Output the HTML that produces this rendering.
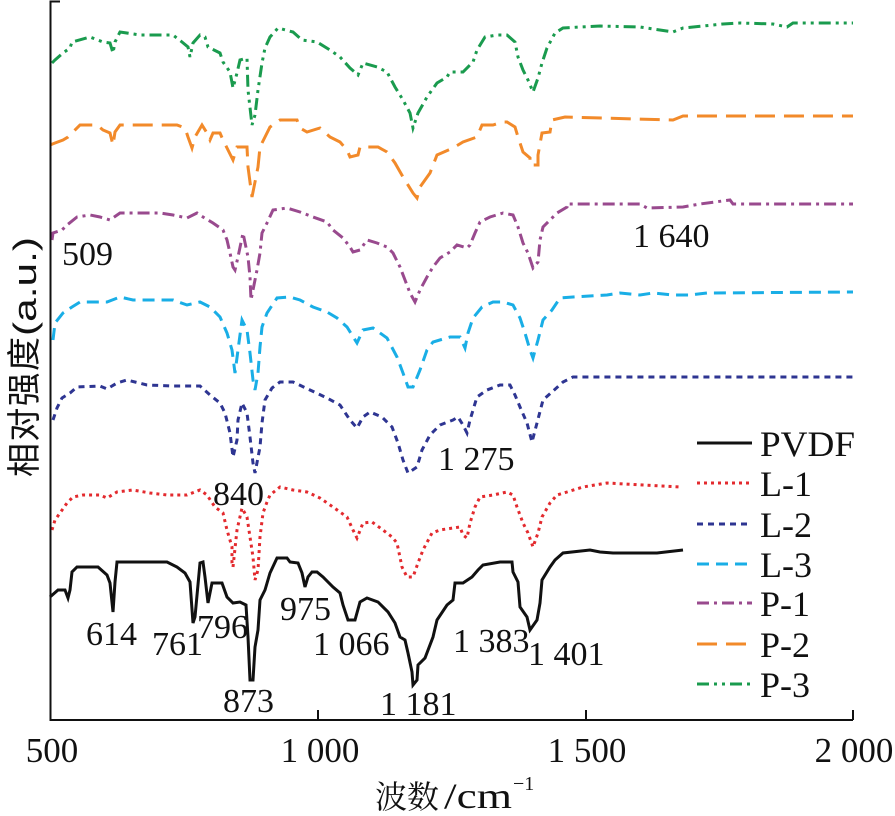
<!DOCTYPE html>
<html><head><meta charset="utf-8"><style>
html,body{margin:0;padding:0;background:#fff;}
svg{display:block;}
.t{font-family:"Liberation Serif","Noto Serif CJK SC",serif;fill:#111;}
</style></head><body>
<svg width="895" height="816" viewBox="0 0 895 816" xmlns="http://www.w3.org/2000/svg">
<rect width="895" height="816" fill="#fff"/>
<g fill="none" stroke-linejoin="miter" stroke-width="3">
<!-- P-3 green -->
<polyline stroke="#1a9b4e" stroke-dasharray="12 5 3 5 3 5" points="52,63 55,60 63,53 70,48 72,42 90,37 103,42 110,43 113,53 115,42 120,32 140,35 173,35 182,42 188,47 190,57 193,43 200,35 205,37 208,47 220,53 223,62 230,72 233,88 237,73 240,60 247,58 248,90 252,125 255,115 258,90 262,63 265,48 270,37 278,28 293,32 302,40 317,42 330,50 340,57 350,68 358,75 363,63 377,67 387,72 395,87 403,100 410,113 413,128 418,113 427,97 437,83 447,77 450,72 463,72 473,62 477,50 485,37 497,35 507,35 515,42 518,57 523,70 528,80 533,92 538,78 542,63 547,48 555,33 563,28 580,27 600,26 640,27 673,32 683,28 723,24 740,23 773,24 787,27 793,23 853,23"/>
<!-- P-2 orange -->
<polyline stroke="#f28a2a" stroke-dasharray="20 9" points="50,145 55,143 63,140 68,137 72,133 80,125 97,125 103,130 110,133 113,145 115,132 120,125 177,125 185,128 188,137 192,148 195,137 202,125 207,133 210,140 213,133 220,133 223,140 228,150 233,160 237,147 247,147 248,167 252,197 255,182 258,167 260,147 265,137 270,127 280,120 297,120 300,128 307,132 320,128 330,137 340,142 347,150 350,157 358,155 360,147 378,147 387,152 395,163 403,177 413,193 417,198 420,187 430,173 437,155 453,148 463,142 477,137 482,125 493,125 502,122 507,122 515,127 518,137 523,152 530,158 530,165 538,165 538,155 542,133 550,132 552,120 565,117 673,120 683,116 853,116"/>
<!-- P-1 purple -->
<polyline stroke="#994a8e" stroke-dasharray="12 5 3 5" points="52,240 53,233 62,230 67,225 77,217 90,215 100,217 110,220 120,213 140,213 160,213 173,215 187,218 197,213 203,217 213,223 223,230 227,240 230,253 233,267 235,270 238,257 243,233 248,257 250,277 251,300 253,290 257,270 260,253 262,233 267,223 273,210 287,208 300,212 313,217 327,222 333,230 343,238 350,247 353,252 360,250 367,240 377,243 387,247 393,253 400,267 405,280 410,293 415,302 420,290 427,277 433,267 440,258 450,252 457,245 467,248 470,245 475,233 480,222 490,217 503,213 513,215 518,227 523,243 528,253 533,268 538,262 540,240 543,227 550,220 557,213 567,207 567,204 640,204 647,208 683,207 700,204 730,200 733,204 853,204"/>
<!-- L-3 light blue -->
<polyline stroke="#19aee6" stroke-dasharray="12 7" points="53,340 55,323 63,313 72,307 80,302 107,302 120,297 133,300 173,300 187,305 200,302 210,307 220,317 227,333 232,350 235,373 238,350 242,320 247,330 250,353 253,380 255,390 258,373 260,347 262,327 267,313 277,298 290,297 300,300 313,307 327,312 337,318 347,327 357,343 363,330 373,328 387,338 397,357 403,373 408,387 413,387 420,370 427,350 433,342 450,337 460,337 465,348 468,333 473,318 482,307 493,302 503,302 513,305 520,318 525,333 530,350 533,358 538,340 543,320 552,310 560,298 573,297 607,295 620,293 640,295 653,293 673,295 690,295 707,293 853,292"/>
<!-- L-2 navy -->
<polyline stroke="#2e3592" stroke-dasharray="6 5" points="53,420 57,408 62,398 70,393 77,387 100,386 107,389 117,383 127,380 147,385 173,386 200,386 210,395 220,403 225,413 230,433 233,457 237,440 238,420 242,403 247,413 250,437 253,463 255,473 260,447 262,423 265,400 272,388 280,382 293,382 310,390 327,398 340,405 350,420 357,428 363,417 370,412 382,417 392,427 398,443 403,460 408,473 417,467 422,450 430,435 440,425 453,420 458,417 463,425 467,433 470,420 477,397 487,390 500,385 510,385 515,395 520,407 527,423 532,442 537,423 543,400 552,392 563,382 573,377 853,377"/>
<!-- L-1 red -->
<polyline stroke="#e32a2e" stroke-dasharray="3 4" points="52,530 55,520 60,513 67,503 73,497 83,495 100,495 107,498 117,492 133,490 150,493 167,495 187,495 200,490 207,495 215,507 223,513 227,530 232,547 232,563 233,567 237,530 242,508 247,517 250,537 253,557 255,580 258,570 260,537 263,513 267,502 270,495 280,487 293,490 307,492 320,498 333,507 347,517 353,530 357,538 363,523 372,522 383,530 392,537 397,543 402,567 407,577 413,577 418,563 423,550 432,533 440,530 453,528 460,527 463,535 467,538 470,523 475,507 480,497 493,495 507,492 513,495 517,507 523,523 528,533 533,547 538,533 542,517 550,503 557,495 567,492 583,487 607,483 680,487"/>
<!-- PVDF black -->
<polyline stroke="#111" points="50,597 58,590 65,590 68,598 70,590 72,572 77,567 98,567 107,575 110,583 113,612 115,582 117,562 167,562 177,567 185,573 190,582 193,623 195,617 200,563 203,562 205,577 208,603 212,583 222,583 227,597 233,603 240,602 246,605 248,637 250,680 253,680 255,647 258,630 260,600 265,590 270,573 277,558 287,558 290,562 298,563 302,573 305,587 308,577 312,572 317,572 323,577 333,587 340,593 343,605 348,620 355,620 360,602 367,598 378,602 388,612 395,623 400,637 405,640 408,653 412,672 413,685 417,680 418,665 425,658 433,637 437,620 447,605 453,600 455,583 463,583 472,577 478,570 483,565 500,562 512,562 513,572 518,582 520,607 527,617 530,630 537,620 540,603 542,580 550,567 555,560 563,553 590,550 600,552 613,553 657,553 683,550"/>
</g>
<!-- axes -->
<g stroke="#111" stroke-width="2" fill="none">
<polyline points="60,1.5 50.5,1.5 50.5,720 853,720"/>
<line x1="318" y1="710" x2="318" y2="720"/>
<line x1="586" y1="710" x2="586" y2="720"/>
<line x1="853" y1="710" x2="853" y2="720"/>
</g>
<!-- tick labels -->
<g class="t" font-size="35" text-anchor="middle">
<text x="52" y="762">500</text>
<text x="320" y="762">1 000</text>
<text x="587" y="762">1 500</text>
<text x="854" y="762">2 000</text>
</g>
<!-- annotations -->
<g class="t" font-size="34">
<text x="86" y="645">614</text>
<text x="152" y="655">761</text>
<text x="197" y="638">796</text>
<text x="223" y="712">873</text>
<text x="280" y="620">975</text>
<text x="313" y="655">1 066</text>
<text x="380" y="715">1 181</text>
<text x="453" y="652">1 383</text>
<text x="528" y="665">1 401</text>
<text x="213" y="505">840</text>
<text x="438" y="470">1 275</text>
<text x="62" y="265">509</text>
<text x="633" y="247">1 640</text>
</g>
<!-- legend -->
<g fill="none" stroke-width="3">
<line x1="697" y1="443" x2="752" y2="443" stroke="#111"/>
<line x1="697" y1="483" x2="752" y2="483" stroke="#e32a2e" stroke-dasharray="3 4"/>
<line x1="697" y1="524" x2="752" y2="524" stroke="#2e3592" stroke-dasharray="6 5"/>
<line x1="697" y1="564" x2="752" y2="564" stroke="#19aee6" stroke-dasharray="12 7"/>
<line x1="697" y1="603" x2="752" y2="603" stroke="#994a8e" stroke-dasharray="12 5 3 5"/>
<line x1="697" y1="644" x2="752" y2="644" stroke="#f28a2a" stroke-dasharray="20 9"/>
<line x1="697" y1="684" x2="752" y2="684" stroke="#1a9b4e" stroke-dasharray="12 5 3 5 3 5"/>
</g>
<g class="t" font-size="36">
<text x="760" y="456" textLength="95" lengthAdjust="spacingAndGlyphs">PVDF</text>
<text x="760" y="496">L-1</text>
<text x="760" y="537">L-2</text>
<text x="760" y="577">L-3</text>
<text x="760" y="616">P-1</text>
<text x="760" y="657">P-2</text>
<text x="760" y="697">P-3</text>
</g>
<!-- x title -->
<text x="375" y="808" font-family="'Noto Serif CJK SC','Noto Sans CJK SC',serif" font-size="32" fill="#111">波数</text>
<text x="444" y="808" class="t" font-size="36" textLength="68" lengthAdjust="spacingAndGlyphs">/cm</text>
<text x="513" y="790" class="t" font-size="20">−1</text>
<!-- y title -->
<g transform="translate(36,477) rotate(-90)">
<text x="0" y="0" font-family="'Noto Sans CJK SC',sans-serif" font-size="34" fill="#111" textLength="140" lengthAdjust="spacing">相对强度</text>
<text x="141" y="0" font-family="'Liberation Sans',sans-serif" font-size="32" fill="#111" textLength="99" lengthAdjust="spacingAndGlyphs">(a.u.)</text>
</g>
</svg>
</body></html>
